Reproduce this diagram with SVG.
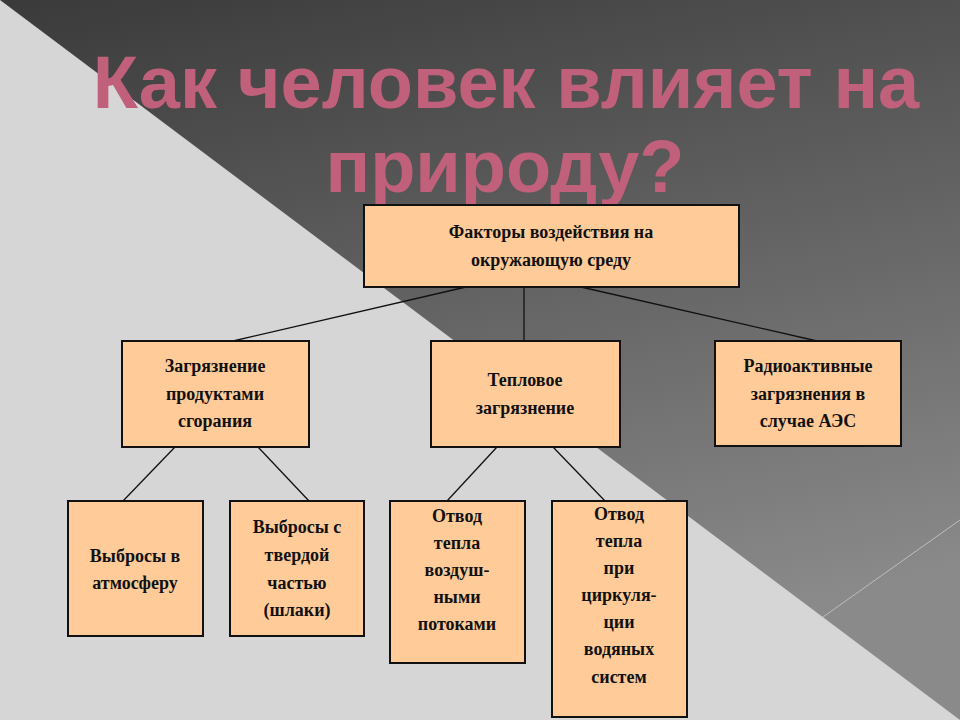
<svg xmlns="http://www.w3.org/2000/svg" width="960" height="720" viewBox="0 0 960 720">
<defs>
<linearGradient id="dk" x1="0" y1="0" x2="0.3" y2="1">
<stop offset="0" stop-color="#3a3a3a"/>
<stop offset="1" stop-color="#8a8a8a"/>
</linearGradient>
</defs>
<style>
.b{fill:#FFCC99;stroke:#111;stroke-width:2}
.t{font-family:"Liberation Serif",serif;font-weight:bold;font-size:18px;fill:#111;text-anchor:middle}
.c line{stroke:#111;stroke-width:1.3}
.h{font-family:"Liberation Sans",Arial,sans-serif;font-weight:bold;font-size:74px;fill:#C0607A;text-anchor:middle}
</style>
<rect width="960" height="720" fill="#d6d6d6"/>
<polygon points="0,0 960,0 960,720" fill="url(#dk)"/>
<line x1="823" y1="617" x2="960" y2="520" stroke="#bdbdbd" stroke-width="1"/>
<text class="h" x="506" y="108">Как человек влияет на</text>
<text class="h" x="505" y="192">природу?</text>
<g class="c">
<line x1="466" y1="287" x2="233" y2="341"/>
<line x1="524" y1="287" x2="524" y2="341"/>
<line x1="581" y1="287" x2="817" y2="341"/>
<line x1="175" y1="447" x2="123" y2="501"/>
<line x1="258" y1="447" x2="309" y2="501"/>
<line x1="497" y1="447" x2="447" y2="501"/>
<line x1="553" y1="447" x2="605" y2="501"/>
</g>
<g id="n0"><rect class="b" x="364" y="205" width="375" height="82"/><text class="t" x="551" y="238">Факторы воздействия на</text><text class="t" x="551" y="266">окружающую среду</text></g>
<g id="n1"><rect class="b" x="122" y="341" width="187" height="106"/><text class="t" x="215" y="372">Загрязнение</text><text class="t" x="215" y="400">продуктами</text><text class="t" x="215" y="427">сгорания</text></g>
<g id="n2"><rect class="b" x="431" y="341" width="189" height="106"/><text class="t" x="525" y="386">Тепловое</text><text class="t" x="525" y="414">загрязнение</text></g>
<g id="n3"><rect class="b" x="715" y="341" width="186" height="105"/><text class="t" x="808" y="372">Радиоактивные</text><text class="t" x="808" y="400">загрязнения в</text><text class="t" x="808" y="427">случае АЭС</text></g>
<g id="n4"><rect class="b" x="68" y="501" width="135" height="135"/><text class="t" x="135" y="562">Выбросы в</text><text class="t" x="135" y="589">атмосферу</text></g>
<g id="n5"><rect class="b" x="230" y="501" width="134" height="135"/><text class="t" x="297" y="533">Выбросы с</text><text class="t" x="297" y="561">твердой</text><text class="t" x="297" y="589">частью</text><text class="t" x="297" y="616">(шлаки)</text></g>
<g id="n6"><rect class="b" x="390" y="501" width="135" height="162"/><text class="t" x="457" y="522">Отвод</text><text class="t" x="457" y="549">тепла</text><text class="t" x="457" y="576">воздуш-</text><text class="t" x="457" y="603">ными</text><text class="t" x="457" y="630">потоками</text></g>
<g id="n7"><rect class="b" x="552" y="501" width="135" height="216"/><text class="t" x="619" y="520">Отвод</text><text class="t" x="619" y="547">тепла</text><text class="t" x="619" y="574">при</text><text class="t" x="619" y="601">циркуля-</text><text class="t" x="619" y="628">ции</text><text class="t" x="619" y="655">водяных</text><text class="t" x="619" y="683">систем</text></g>
</svg>
